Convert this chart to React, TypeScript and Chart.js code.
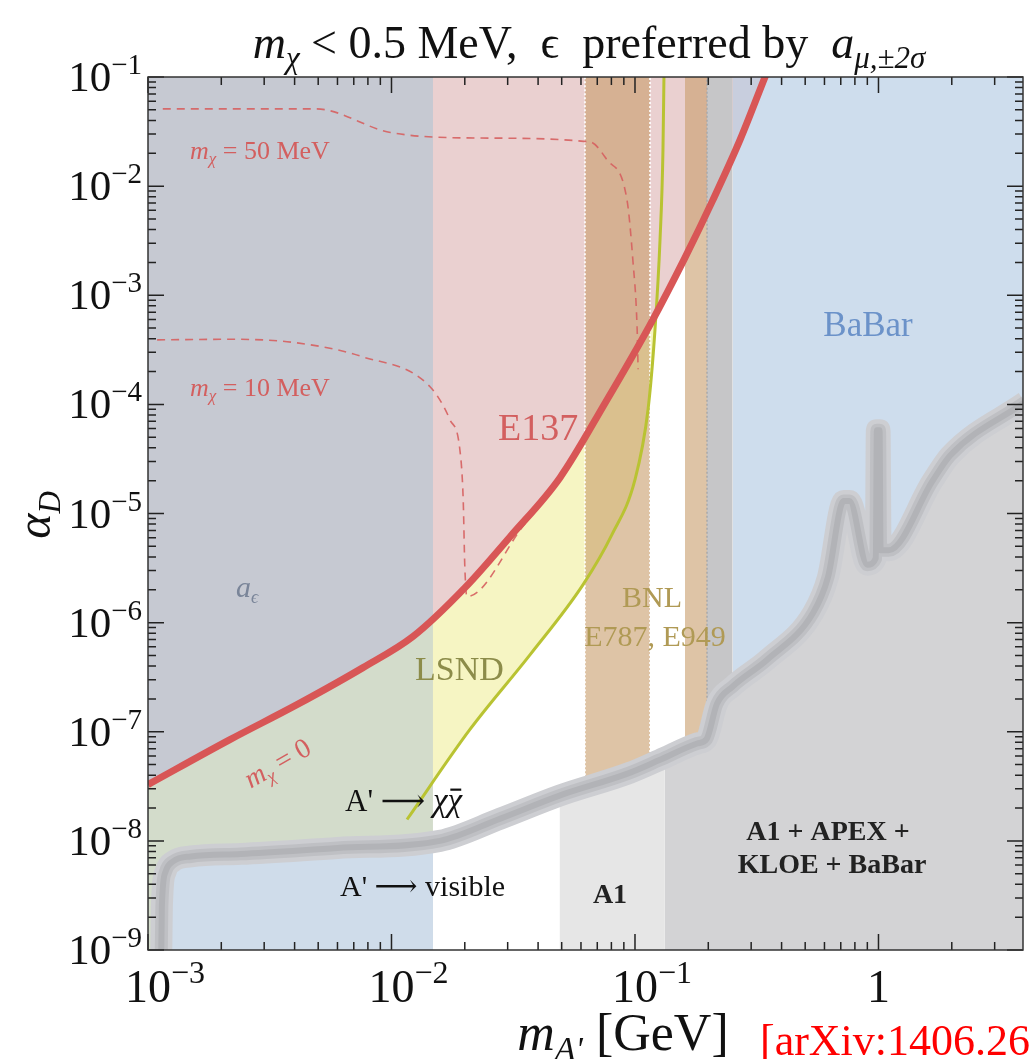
import React, { useEffect, useRef } from 'react';
import { Chart, registerables } from 'chart.js';
Chart.register(...registerables);

type P = [number, number];

// ---- axes ----
const X_MIN = 1e-3;
const X_MAX = 3.922;
const Y_MIN = 1e-9;
const Y_MAX = 1e-1;
const X_MAJOR = [1e-3, 1e-2, 1e-1, 1];
const X_TICK_LABELS: [string, string][] = [['10', '−3'], ['10', '−2'], ['10', '−1'], ['1', '']];
const Y_MAJOR = [1e-9, 1e-8, 1e-7, 1e-6, 1e-5, 1e-4, 1e-3, 1e-2, 1e-1];
const Y_TICK_LABELS: [string, string][] = [
  ['10', '−9'], ['10', '−8'], ['10', '−7'], ['10', '−6'], ['10', '−5'],
  ['10', '−4'], ['10', '−3'], ['10', '−2'], ['10', '−1'],
];

// ---- boundaries (x = m_A' in GeV, y = alpha_D) ----
const E137_M0: P[] = [
  [1e-3, 3.28e-8], [2.17e-3, 8.47e-8], [4.09e-3, 1.77e-7], [7.64e-3, 3.87e-7], [0.01225, 7.45e-7],
  [0.02004, 2.09e-6], [0.0307, 6.13e-6], [0.0492, 2.13e-5], [0.0754, 1.03e-4],
  [0.1153, 5.36e-4], [0.1603, 2.2e-3], [0.209, 7.48e-3], [0.27, 0.0265], [0.342, 0.1], [0.376, 0.17],
];
const LSND_EDGE: P[] = [
  [0.01158, 1.57e-8], [0.021, 1.05e-7], [0.0371, 5.09e-7], [0.0612, 2.23e-6], [0.0804, 6.4e-6],
  [0.1, 2.04e-5], [0.1131, 8.93e-5], [0.1208, 4.82e-4], [0.1267, 3.21e-3], [0.1303, 0.0215],
  [0.1315, 0.1],
];
const VISIBLE: P[] = [
  [1.13e-3, 5e-10], [1.14e-3, 2.5e-9], [1.18e-3, 5.2e-9], [1.27e-3, 6.5e-9], [1.5e-3, 7.2e-9],
  [2.4e-3, 7.6e-9], [6e-3, 8.6e-9], [0.0158, 1.0e-8], [0.028, 1.6e-8], [0.049, 2.6e-8],
  [0.095, 4.2e-8], [0.126, 5.5e-8], [0.18, 7.8e-8], [0.197, 8.6e-8], [0.217, 1.8e-7],
  [0.252, 2.6e-7], [0.35, 4.6e-7], [0.54, 1.24e-6], [0.62, 2.6e-6], [0.72, 1.3e-5],
  [0.76, 1.3e-5], [0.9, 3.4e-6], [0.975, 3.9e-6], [0.985, 5.8e-5], [1.01, 5.8e-5],
  [1.02, 4.6e-6], [1.1, 4.6e-6], [1.67, 2.0e-5], [1.97, 3.4e-5], [4.0, 1.05e-4],
];
const DASH_50: P[] = [
  [1.15e-3, 0.051], [4.9e-3, 0.051], [9.9e-3, 0.031], [0.0231, 0.0276], [0.0653, 0.0254],
  [0.0767, 0.0174], [0.0927, 7.5e-3], [0.098, 2.1e-3], [0.102, 5.1e-4], [0.103, 2.1e-4],
];
const DASH_10: P[] = [
  [1.09e-3, 3.9e-4], [2.2e-3, 3.95e-4], [4.1e-3, 3.66e-4], [7.6e-3, 2.73e-4], [0.0144, 1.45e-4],
  [0.0174, 7.2e-5], [0.0191, 3.8e-5], [0.0197, 1.34e-5], [0.02, 3.3e-6], [0.0204, 1.73e-6],
  [0.0346, 7.6e-6], [0.04, 1.15e-5],
];

// ---- vertical bands (x ranges, GeV) ----
const AE_EDGE = 0.0148;
const LSND_FILL_END = 0.125;
const BNL_1: P = [0.0623, 0.1153];
const BNL_2: P = [0.1604, 0.1976];
const GRAY_STRIP: P = [0.1976, 0.252];
const BABAR_START = 0.252;
const A1_RANGE: P = [0.049, 0.1327];

const Lg = Math.log10;
function yAt(curve: P[], x: number): number {
  if (x <= curve[0][0]) return curve[0][1];
  for (let i = 0; i < curve.length - 1; i++) {
    const [x0, y0] = curve[i];
    const [x1, y1] = curve[i + 1];
    if (x >= x0 && x <= x1) {
      if (x1 === x0) return y1;
      const t = (Lg(x) - Lg(x0)) / (Lg(x1) - Lg(x0));
      return Math.pow(10, Lg(y0) + t * (Lg(y1) - Lg(y0)));
    }
  }
  return curve[curve.length - 1][1];
}
function seg(curve: P[], xa: number, xb: number) {
  const pts = [{ x: xa, y: yAt(curve, xa) }];
  for (const [x, y] of curve) if (x > xa && x < xb) pts.push({ x, y });
  pts.push({ x: xb, y: yAt(curve, xb) });
  return pts;
}
const all = (curve: P[]) => curve.map(([x, y]) => ({ x, y }));

const area = (data: any[], fill: any, color: string, smooth = true) => ({
  data, fill, backgroundColor: color, borderColor: 'rgba(0,0,0,0)', borderWidth: 0,
  pointRadius: 0, clip: 0, cubicInterpolationMode: smooth ? 'monotone' : 'default',
});
const line = (data: any[], color: string, width: number, dash: number[] = [], join = 'round', smooth = true) => ({
  data, fill: false, borderColor: color, borderWidth: width, borderDash: dash,
  pointRadius: 0, borderJoinStyle: join, borderCapStyle: 'butt', clip: 0,
  cubicInterpolationMode: smooth ? 'monotone' : 'default',
});
const edge = (x: number, color: string, width: number, dash: number[]) =>
  line([{ x, y: yAt(VISIBLE, x) }, { x, y: Y_MAX }], color, width, dash, 'round', false);

const layers: any[] = [
  // LSND (below E137 line)
  area(seg(E137_M0, X_MIN, LSND_FILL_END), 'start', '#f6f5c3'),
  // white right of LSND edge
  area(all(LSND_EDGE), 'start', '#ffffff'),
  // E137 excluded (above m_chi = 0 line)
  area(seg(E137_M0, X_MIN, 0.376), 'end', '#ead0d0'),
  // a_e band
  area(seg(E137_M0, X_MIN, AE_EDGE), 'end', '#c6c9d2'),
  area(seg(E137_M0, X_MIN, AE_EDGE), 'start', '#d3dccb'),
  area(seg(VISIBLE, X_MIN, AE_EDGE), 'start', '#cfdcea'),
  // BNL E787/E949
  area(seg(VISIBLE, BNL_1[0], BNL_1[1]), 'end', 'rgba(200,157,107,0.6)'),
  area(seg(VISIBLE, BNL_2[0], BNL_2[1]), 'end', 'rgba(200,157,107,0.6)'),
  // gray strip
  area(seg(VISIBLE, GRAY_STRIP[0], GRAY_STRIP[1]), 'end', '#c6c6c8'),
  // BaBar
  area(seg(VISIBLE, BABAR_START, 4.0), 'end', '#cedded'),
  area(seg(E137_M0, BABAR_START, 0.376), 'end', '#c8cede'),
  // visible-decay exclusions
  area(seg(VISIBLE, AE_EDGE, A1_RANGE[0]), 'start', '#ffffff'),
  area(seg(VISIBLE, A1_RANGE[0], A1_RANGE[1]), 'start', '#e6e6e6'),
  area(seg(VISIBLE, A1_RANGE[1], 4.0), 'start', '#d3d3d5'),
  // band edges
  edge(BNL_1[0], 'rgba(255,255,255,0.85)', 2, [2, 2]),
  edge(BNL_1[1], 'rgba(255,255,255,0.85)', 2, [2, 2]),
  edge(GRAY_STRIP[0], '#a9a9ab', 1.5, [2, 2]),
  // visible curve band
  line(all(VISIBLE), '#cdced2', 22, [], 'bevel'),
  line(all(VISIBLE), '#bfc0c4', 13, [], 'bevel'),
  line(all(VISIBLE), '#b2b3b7', 6, [], 'bevel'),
  // LSND edge line
  line(all(LSND_EDGE), '#b9c332', 3),
  // dashed m_chi curves
  line(all(DASH_50), 'rgba(214,95,95,0.9)', 1.6, [8, 6]),
  line(all(DASH_10), 'rgba(214,95,95,0.9)', 1.6, [8, 6]),
  // E137 m_chi = 0
  line(all(E137_M0), '#d85656', 7),
];

type Run = { t: string; size: number; italic?: boolean; bold?: boolean; dy?: number; over?: boolean };
const FAM = '"Liberation Serif", "DejaVu Serif", serif';
const fontOf = (r: Run) => `${r.italic ? 'italic ' : ''}${r.bold ? 'bold ' : ''}${r.size}px ${FAM}`;

function drawRuns(ctx: CanvasRenderingContext2D, runs: Run[], x: number, y: number, color: string,
  align: 'left' | 'center' | 'right' = 'left', angle = 0) {
  ctx.save();
  ctx.translate(x, y);
  if (angle) ctx.rotate(angle);
  let w = 0;
  for (const r of runs) { ctx.font = fontOf(r); w += ctx.measureText(r.t).width; }
  let cx = align === 'left' ? 0 : align === 'center' ? -w / 2 : -w;
  ctx.fillStyle = color;
  ctx.textBaseline = 'alphabetic';
  ctx.textAlign = 'left';
  for (const r of runs) {
    ctx.font = fontOf(r);
    const rw = ctx.measureText(r.t).width;
    ctx.fillText(r.t, cx, r.dy || 0);
    if (r.over) ctx.fillRect(cx + rw * 0.2, (r.dy || 0) - r.size * 0.68, rw * 0.75, Math.max(1.5, r.size / 15));
    cx += rw;
  }
  ctx.restore();
}

const decor = {
  id: 'decor',
  afterDraw(chart: any) {
    const { ctx, chartArea: a, scales } = chart;
    const xs = scales.x;
    const ys = scales.y;
    ctx.save();
    // ticks
    ctx.strokeStyle = '#222';
    ctx.lineWidth = 1.5;
    const xt: [number, boolean][] = [];
    for (let e = -3; e <= 0; e++) for (let k = 1; k <= 9; k++) {
      const v = k * Math.pow(10, e);
      if (v <= X_MAX * 1.0001) xt.push([v, k === 1]);
    }
    for (const [v, major] of xt) {
      const px = xs.getPixelForValue(v);
      const len = major ? 16 : 8;
      ctx.beginPath();
      ctx.moveTo(px, a.bottom); ctx.lineTo(px, a.bottom - len);
      ctx.moveTo(px, a.top); ctx.lineTo(px, a.top + len);
      ctx.stroke();
    }
    for (let e = -9; e <= -1; e++) for (let k = 1; k <= 9; k++) {
      const v = k * Math.pow(10, e);
      if (v > Y_MAX * 1.0001) continue;
      const py = ys.getPixelForValue(v);
      const len = k === 1 ? 16 : 8;
      ctx.beginPath();
      ctx.moveTo(a.left, py); ctx.lineTo(a.left + len, py);
      ctx.moveTo(a.right, py); ctx.lineTo(a.right - len, py);
      ctx.stroke();
    }
    // frame
    ctx.strokeStyle = '#333';
    ctx.lineWidth = 1.5;
    ctx.strokeRect(a.left, a.top, a.right - a.left, a.bottom - a.top);
    ctx.restore();

    // tick labels
    Y_MAJOR.forEach((v, i) => {
      const py = ys.getPixelForValue(v);
      const [b, ex] = Y_TICK_LABELS[i];
      drawRuns(ctx, [{ t: b, size: 43 }, { t: ex, size: 29, dy: -17 }], 142, py + 14, '#111', 'right');
    });
    X_MAJOR.forEach((v, i) => {
      const px = xs.getPixelForValue(v);
      const [b, ex] = X_TICK_LABELS[i];
      const runs: Run[] = ex ? [{ t: b, size: 46 }, { t: ex, size: 32, dy: -19 }] : [{ t: b, size: 46 }];
      drawRuns(ctx, runs, ex ? px + 17 : px, 1002, '#111', 'center');
    });

    // title
    drawRuns(ctx, [
      { t: 'm', size: 46, italic: true }, { t: 'χ', size: 31, italic: true, dy: 10 },
      { t: ' < 0.5 MeV,  ϵ  preferred by  ', size: 46 },
      { t: 'a', size: 46, italic: true }, { t: 'μ,±2σ', size: 31, italic: true, dy: 10 },
    ], 589, 58, '#111', 'center');
    // axis titles
    drawRuns(ctx, [
      { t: 'm', size: 52, italic: true }, { t: "A'", size: 34, italic: true, dy: 10 },
      { t: ' [GeV]', size: 52 },
    ], 623, 1050, '#111', 'center');
    drawRuns(ctx, [{ t: 'α', size: 48, italic: true }, { t: 'D', size: 31, italic: true, dy: 10 }],
      50, 515, '#111', 'center', -Math.PI / 2);
    // source
    drawRuns(ctx, [{ t: '[arXiv:1406.2698]', size: 44 }], 760, 1055, '#ff0000', 'left');

    // region annotations
    const red = '#d35f5f';
    drawRuns(ctx, [{ t: 'm', size: 26, italic: true }, { t: 'χ', size: 17, italic: true, dy: 5 },
      { t: ' = 50 MeV', size: 26 }], 190, 159, red);
    drawRuns(ctx, [{ t: 'm', size: 26, italic: true }, { t: 'χ', size: 17, italic: true, dy: 5 },
      { t: ' = 10 MeV', size: 26 }], 190, 396, red);
    drawRuns(ctx, [{ t: 'E137', size: 38 }], 498, 440, red);
    drawRuns(ctx, [{ t: 'm', size: 28, italic: true }, { t: 'χ', size: 18, italic: true, dy: 5 },
      { t: ' = 0', size: 28 }], 282, 771, red, 'center', -0.52);
    drawRuns(ctx, [{ t: 'a', size: 30, italic: true }, { t: 'ϵ', size: 18, italic: true, dy: 6 }],
      236, 597, '#7a8599');
    drawRuns(ctx, [{ t: 'LSND', size: 34 }], 415, 680, '#8c8c4a');
    drawRuns(ctx, [{ t: 'BNL', size: 30 }], 652, 607, '#b09a55', 'center');
    drawRuns(ctx, [{ t: 'E787, E949', size: 30 }], 655, 646, '#b09a55', 'center');
    drawRuns(ctx, [{ t: 'BaBar', size: 35 }], 868, 336, '#6b92c9', 'center');
    drawRuns(ctx, [{ t: "A'", size: 31 }, { t: ' ⟶ ', size: 31 },
      { t: 'χ', size: 33, italic: true }, { t: 'χ', size: 33, italic: true, over: true }],
      345, 811, '#111');
    drawRuns(ctx, [{ t: "A'", size: 30 }, { t: ' ⟶ ', size: 30 }, { t: 'visible', size: 30 }],
      340, 896, '#111');
    drawRuns(ctx, [{ t: 'A1', size: 28, bold: true }], 610, 903, '#222', 'center');
    drawRuns(ctx, [{ t: 'A1 + APEX +', size: 28, bold: true }], 828, 840, '#222', 'center');
    drawRuns(ctx, [{ t: 'KLOE + BaBar', size: 28, bold: true }], 832, 873, '#222', 'center');
  },
};

export default function App() {
  const ref = useRef<HTMLCanvasElement>(null);
  useEffect(() => {
    const canvas = ref.current;
    if (!canvas) return;
    const datasets = layers.map((d, i) => ({ ...d, order: layers.length - i }));
    const chart = new Chart(canvas, {
      type: 'line',
      data: { datasets },
      options: {
        animation: false,
        responsive: false,
        devicePixelRatio: 1,
        layout: { padding: { left: 148, right: 7, top: 77, bottom: 109 } },
        scales: {
          x: { type: 'logarithmic', min: X_MIN, max: X_MAX, display: false },
          y: { type: 'logarithmic', min: Y_MIN, max: Y_MAX, display: false },
        },
        plugins: { legend: { display: false }, tooltip: { enabled: false }, title: { display: false } },
        elements: { point: { radius: 0 } },
      } as any,
      plugins: [decor],
    });
    return () => chart.destroy();
  }, []);
  return (
    <div style={{ position: 'absolute', left: 0, top: 0, width: 1030, height: 1059, background: '#fff', overflow: 'hidden' }}>
      <canvas ref={ref} width={1030} height={1059} style={{ display: 'block', width: 1030, height: 1059 }} />
    </div>
  );
}
